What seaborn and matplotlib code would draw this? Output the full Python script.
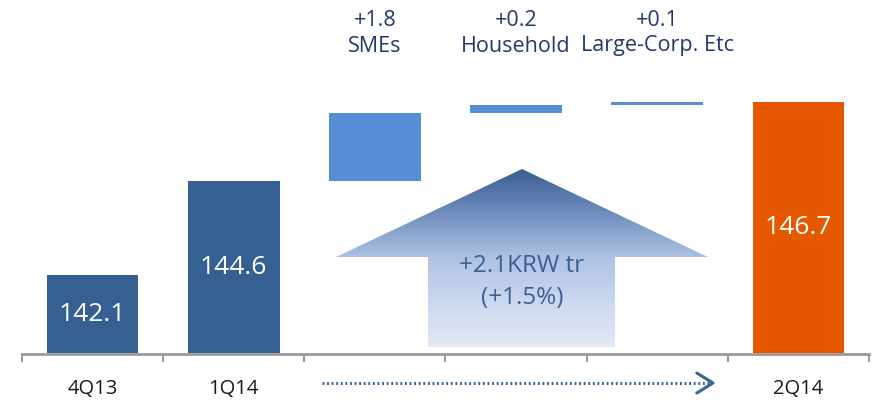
import numpy as np
import pandas as pd
import matplotlib
matplotlib.use("Agg")
import matplotlib.pyplot as plt
import matplotlib.transforms as mtransforms
from matplotlib.colors import LinearSegmentedColormap
from matplotlib.patches import Polygon
import seaborn as sns

# ---- data ----
categories = ["4Q13", "1Q14", "SMEs", "Household", "Large-Corp. Etc", "2Q14"]
kinds = ["total", "total", "delta", "delta", "delta", "total"]
values = [142.1, 144.6, 1.8, 0.2, 0.1, 146.7]
tick_labels = ["4Q13", "1Q14", "", "", "", "2Q14"]
delta_labels = ["+1.8", "+0.2", "+0.1"]
growth_text = ["+2.1KRW tr", "(+1.5%)"]
axis_floor = 140.0

# waterfall bottoms/tops from the values
bottoms, tops = [], []
running = None
for k, v in zip(kinds, values):
    if k == "total":
        bottoms.append(axis_floor)
        tops.append(v)
        running = v
    else:
        bottoms.append(running)
        running = running + v
        tops.append(running)

df = pd.DataFrame({"category": categories, "top": tops, "bottom": bottoms})

DARK = "#366092"
LIGHT = "#558ed5"
ORANGE = "#e65800"
NAVY = "#22396a"
palette = {c: (ORANGE if c == "2Q14" else DARK if k == "total" else LIGHT)
           for c, k in zip(categories, kinds)}

sns.set_theme(style="white")
plt.rcParams["font.family"] = ["Open Sans", "DejaVu Sans"]

fig = plt.figure(figsize=(8.79, 4.03), dpi=100)
ax = fig.add_axes([22 / 879, 49.5 / 403, 847 / 879, 353.5 / 403])

sns.barplot(data=df, x="category", y="top", hue="category", palette=palette,
            order=categories, hue_order=categories, legend=False, width=0.65,
            dodge=False, ax=ax, saturation=1, zorder=2)

# turn bars into floating waterfall bars
for patch, b, t in zip(ax.patches, bottoms, tops):
    patch.set_y(b)
    patch.set_height(t - b)
    patch.set_edgecolor("none")

ax.set_xlim(-0.5, 5.5)
ax.set_ylim(axis_floor, axis_floor + 353.5 / 37.6)

# value labels in total bars
for i, (k, b, t) in enumerate(zip(kinds, bottoms, tops)):
    if k == "total":
        ax.text(i, (b + t) / 2, f"{t:.1f}", color="white", ha="center",
                va="center", fontsize=19, zorder=5)

# delta labels at top
trans = mtransforms.blended_transform_factory(ax.transData, ax.transAxes)
di = 0
for i, k in enumerate(kinds):
    if k == "delta":
        ax.text(i, 1 - 20 / 353.5, delta_labels[di], color=NAVY, ha="center",
                va="center", fontsize=15.5, transform=trans)
        ax.text(i, 1 - 46 / 353.5, categories[i], color=NAVY, ha="center",
                va="center", fontsize=15.5, transform=trans)
        di += 1

# big gradient arrow (annotation)
apex = (3.042, 144.907)
wing_y = 142.566
shaft_x0, shaft_x1 = 2.376, 3.701
verts = [apex, (4.359, wing_y), (shaft_x1, wing_y), (shaft_x1, 140.17),
         (shaft_x0, 140.17), (shaft_x0, wing_y), (1.724, wing_y)]
poly = Polygon(verts, closed=True, facecolor="none", edgecolor="none")
ax.add_patch(poly)
cmap = LinearSegmentedColormap.from_list(
    "arr", ["#395d90", "#6f8dbd", "#afc2e4", "#cbd8ef", "#e3e9f6"])
grad = np.linspace(0, 1, 256).reshape(-1, 1)
im = ax.imshow(grad, cmap=cmap, aspect="auto",
               extent=(1.724, 4.359, 140.17, apex[1]), origin="upper", zorder=3)
im.set_clip_path(poly)
ax.text(apex[0], 142.33, growth_text[0], color="#3b5f8f", ha="center",
        va="center", fontsize=17.5, zorder=6)
ax.text(apex[0], 141.48, growth_text[1], color="#3b5f8f", ha="center",
        va="center", fontsize=17.5, zorder=6)

# axes styling
for s in ["left", "right", "top"]:
    ax.spines[s].set_visible(False)
ax.spines["bottom"].set_color("#9a9a9a")
ax.spines["bottom"].set_linewidth(2)
ax.spines["bottom"].set_zorder(4)
ax.set_yticks([])
ax.set_ylabel("")
ax.set_xlabel("")
ax.set_xticks(range(len(categories)))
ax.set_xticklabels(tick_labels, fontsize=14.5, color="#1a1a1a")
ax.tick_params(axis="x", which="major", length=0, pad=18.5)
ax.set_xticks(np.arange(-0.5, len(categories), 1.0), minor=True)
ax.tick_params(axis="x", which="minor", length=6, width=1.5, color="#9a9a9a",
               direction="out", bottom=True)

# dotted progression arrow under the axis
y_arr = (353.5 - 383) / 353.5
ax.plot([1.625, 4.38], [y_arr, y_arr], transform=trans, color="#3a6599",
        lw=2.2, ls=(0, (0.6, 0.9)), clip_on=False, solid_capstyle="butt")
ax.plot([4.28, 4.395, 4.28],
        [(353.5 - 373) / 353.5, y_arr, (353.5 - 393) / 353.5],
        transform=trans, color="#3a6599", lw=2.2, clip_on=False)

fig.savefig("out.png", dpi=100)
